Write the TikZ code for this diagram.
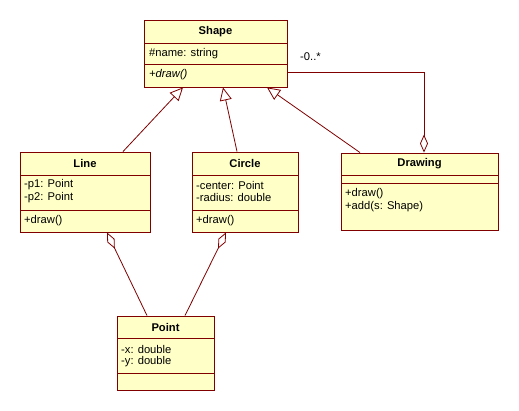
\documentclass[tikz,border=0pt]{standalone}
\usepackage{fontspec}
\setmainfont{Liberation Sans}
\usetikzlibrary{arrows.meta,calc}
\definecolor{umlline}{HTML}{800000}
\definecolor{umlfill}{HTML}{FFFFC8}
\tikzset{
  umlbox/.style={draw=umlline, fill=umlfill, line width=0.9pt, inner sep=0pt},
  title/.style={font=\fontsize{11.2}{13}\selectfont\bfseries, inner sep=0pt},
  member/.style={font=\fontsize{11.2}{13}\selectfont, anchor=west, inner sep=0pt},
  sep/.style={draw=umlline, line width=0.9pt},
  conn/.style={draw=umlline, line width=0.8pt},
  gen/.style={conn, -{Triangle[length=13pt,width=12pt,fill=white,line width=0.8pt]}},
  agg/.style={conn, {Diamond[length=18pt,width=8pt,fill=white,line width=0.8pt]}-},
  aggend/.style={conn, -{Diamond[length=18pt,width=8pt,fill=white,line width=0.8pt]}},
}
\begin{document}
\begin{tikzpicture}[x=1pt,y=-1pt]
\useasboundingbox[fill=white] (0,0) rectangle (519,411);

% Shape
\node[umlbox, minimum width=143pt, minimum height=67pt] (shape) at (215.5,53.5) {};
\draw[sep] (144,43) -- (287,43);
\draw[sep] (144,64) -- (287,64);
\node[title] (shapet) at (215.5,31.5) {Shape};
\node[member] (shapea) at (149,53.5) {\#name: string};
\node[member, font=\fontsize{11.2}{13}\selectfont\itshape] (shapeo) at (149,75) {+draw()};

% Line
\node[umlbox, minimum width=130pt, minimum height=80pt] (line) at (85,192) {};
\draw[sep] (20,175) -- (150,175);
\draw[sep] (20,210) -- (150,210);
\node[title] (linet) at (85,163.5) {Line};
\node[member] (linea1) at (24,185) {-p1: Point};
\node[member] (linea2) at (24,197.5) {-p2: Point};
\node[member] (lineo) at (24,220.5) {+draw()};

% Circle
\node[umlbox, minimum width=106pt, minimum height=80pt] (circle) at (245,192) {};
\draw[sep] (192,175) -- (298,175);
\draw[sep] (192,210) -- (298,210);
\node[title] (circlet) at (245,163.5) {Circle};
\node[member] (circlea1) at (196,185) {-center: Point};
\node[member] (circlea2) at (196,197.5) {-radius: double};
\node[member] (circleo) at (196,220.5) {+draw()};

% Drawing
\node[umlbox, minimum width=157pt, minimum height=77pt] (drawing) at (419.5,191.5) {};
\draw[sep] (341,175) -- (498,175);
\draw[sep] (341,183) -- (498,183);
\node[title] (drawingt) at (419.5,163.5) {Drawing};
\node[member] (drawingo1) at (345,194) {+draw()};
\node[member] (drawingo2) at (345,206.5) {+add(s: Shape)};

% Point
\node[umlbox, minimum width=97pt, minimum height=74pt] (point) at (165.5,353) {};
\draw[sep] (117,338) -- (214,338);
\draw[sep] (117,373) -- (214,373);
\node[title] (pointt) at (165.5,327) {Point};
\node[member] (pointa1) at (121,349) {-x: double};
\node[member] (pointa2) at (121,362) {-y: double};

% Generalizations
\draw[gen] ($(line.north)+(38,0)$) -- ($(shape.south)+(-32.5,0)$);
\draw[gen] ($(circle.north)+(-8,0)$) -- ($(shape.south)+(7.5,0)$);
\draw[gen] ($(drawing.north)+(-59.5,0)$) -- ($(shape.south)+(51.5,0)$);

% Aggregations
\draw[aggend] ($(shape.east)+(0,18.5)$) -| ($(drawing.north)+(4.5,0)$);
\node[member] (mult) at (300,57) {-0..*};
\draw[agg] ($(line.south)+(22,0)$) -- ($(point.north)+(-18.5,0)$);
\draw[agg] ($(circle.south)+(-19,0)$) -- ($(point.north)+(19.5,0)$);
\end{tikzpicture}
\end{document}
